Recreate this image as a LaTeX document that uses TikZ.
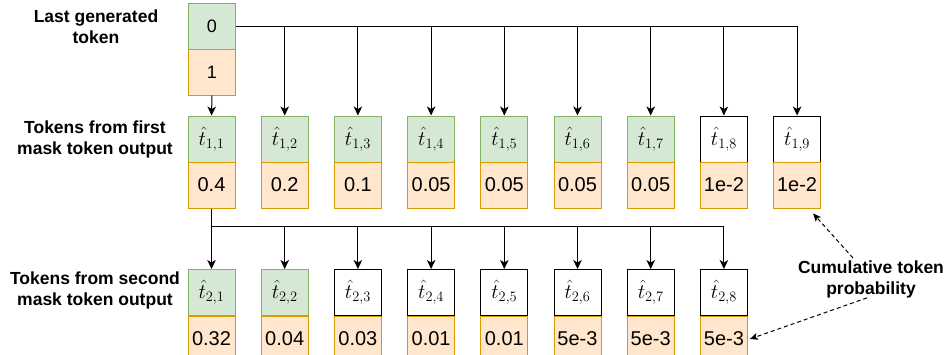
\documentclass[tikz,border=0pt]{standalone}
\usepackage{fontspec}
\setmainfont{Liberation Sans}
\usetikzlibrary{arrows.meta}
\definecolor{gfill}{HTML}{D5E8D4}
\definecolor{gdraw}{HTML}{82B366}
\definecolor{ofill}{HTML}{FFE6CC}
\definecolor{odraw}{HTML}{D79B00}
\tikzset{
  cell/.style={minimum width=47pt, minimum height=46pt, inner sep=0pt, line width=1pt},
  gcell/.style={cell, fill=gfill, draw=gdraw},
  ocell/.style={cell, fill=ofill, draw=odraw},
  wcell/.style={cell, fill=white, draw=black},
  val/.style={font=\fontsize{20}{24}\selectfont},
  topval/.style={font=\fontsize{18}{22}\selectfont},
  mth/.style={font=\fontsize{20.74}{24}\selectfont},
  lbl/.style={font=\fontsize{17.5}{21}\selectfont\bfseries, align=center, inner sep=0pt},
  arr/.style={-{Stealth[length=9pt,width=8.5pt,inset=2.5pt]}, line width=1pt},
  dasharr/.style={dash pattern=on 4pt off 3pt, -{Stealth[length=8pt,width=7pt,inset=2pt]}, line width=1pt}
}
\begin{document}
\begin{tikzpicture}[x=1pt,y=-1pt]
\useasboundingbox (0,0) rectangle (949,354);
\clip (0,0) rectangle (949,354);
\fill[white] (0,0) rectangle (949,354);

% last generated token
\node[gcell, topval] (top0) at (212,26) {0};
\node[ocell, topval] (top1) at (212,72) {1};

% first mask token output
\foreach \i/\st/\v in {1/gcell/0.4, 2/gcell/0.2, 3/gcell/0.1, 4/gcell/0.05, 5/gcell/0.05,
                       6/gcell/0.05, 7/gcell/0.05, 8/wcell/1e-2, 9/wcell/1e-2}{
  \node[\st, mth] (r1g\i) at ({211.5+73.2*(\i-1)},139) {$\hat{t}_{1,\i}$};
  \node[ocell, val] (r1o\i) at ({211.5+73.2*(\i-1)},185) {\v};
}

% second mask token output
\foreach \i/\st/\v in {1/gcell/0.32, 2/gcell/0.04, 3/wcell/0.03, 4/wcell/0.01, 5/wcell/0.01,
                       6/wcell/5e-3, 7/wcell/5e-3, 8/wcell/5e-3}{
  \node[\st, mth] (r2g\i) at ({211.5+73.2*(\i-1)},292.5) {$\hat{t}_{2,\i}$};
  \node[ocell, val] (r2o\i) at ({211.5+73.2*(\i-1)},339) {\v};
}

% row labels
\node[lbl] (l0) at (96,27) {Last generated\\token};
\node[lbl] (l1) at (95,139) {Tokens from first\\mask token output};
\node[lbl] (l2) at (95,290) {Tokens from second\\mask token output};
\node[lbl] (cum) at (871,279) {Cumulative token\\probability};

% fan-out of the last generated token
\draw[arr] (top1.south) -- (r1g1.north);
\draw[arr] (top0.east) -| (r1g9.north);
\foreach \i in {2,...,8}{
  \draw[arr] (r1g\i.north |- top0.east) -- (r1g\i.north);
}

% fan-out of the first selected token
\coordinate (bus) at (211.5,226);
\draw[arr] (r1o1.south) -- (r2g1.north);
\draw[arr] (bus) -| (r2g8.north);
\foreach \i in {2,...,7}{
  \draw[arr] (r2g\i.north |- bus) -- (r2g\i.north);
}

% cumulative probability callouts
\coordinate (c1) at (853,258);
\draw[dasharr] (c1) -- ([shift={(-8,5)}]r1o9.south east);
\draw[dasharr] ([xshift=-4pt]cum.south) -- ([xshift=2pt]r2o8.east);
\end{tikzpicture}
\end{document}
